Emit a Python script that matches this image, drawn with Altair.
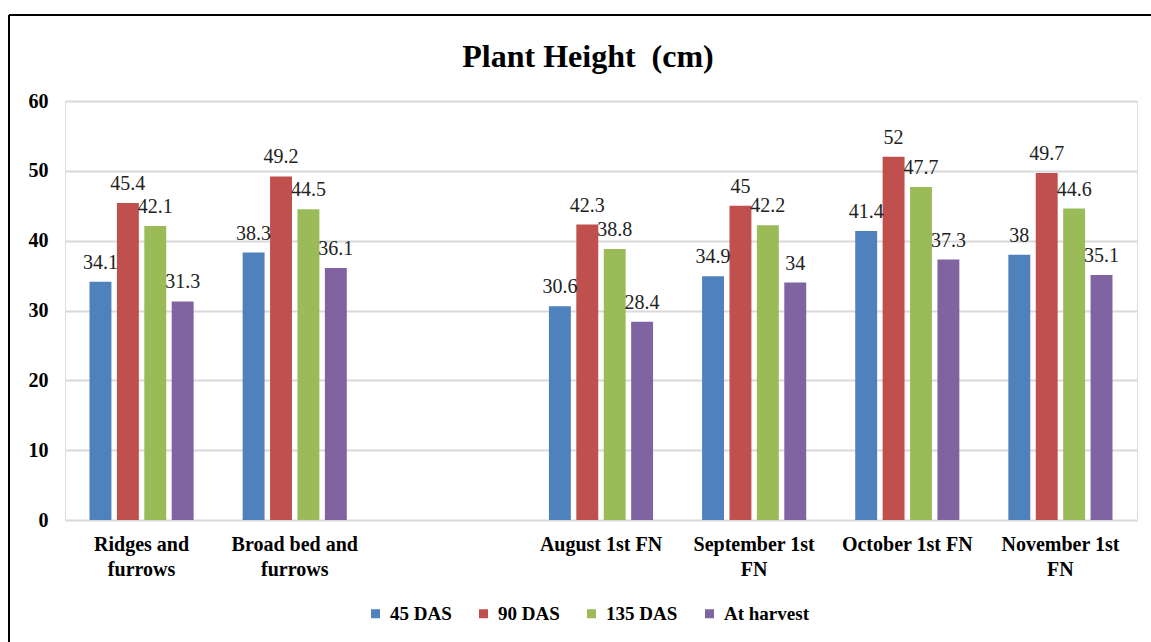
import altair as alt
import pandas as pd

categories = ["Ridges and\nfurrows", "Broad bed and\nfurrows", " ", "August 1st FN",
              "September 1st\nFN", "October 1st FN", "November 1st\nFN"]
series = ["45 DAS", "90 DAS", "135 DAS", "At harvest"]
colors = ["#4f81bd", "#c0504d", "#9bbb59", "#8064a2"]
title_text = "Plant Height \u00a0(cm)"

das45 = [34.1, 38.3, None, 30.6, 34.9, 41.4, 38.0]
das90 = [45.4, 49.2, None, 42.3, 45.0, 52.0, 49.7]
das135 = [42.1, 44.5, None, 38.8, 42.2, 47.7, 44.6]
harvest = [31.3, 36.1, None, 28.4, 34.0, 37.3, 35.1]

rows = []
for s, vals in zip(series, [das45, das90, das135, harvest]):
    for c, v in zip(categories, vals):
        if v is not None:
            rows.append({"cat": c, "series": s, "value": v})
df = pd.DataFrame(rows)

FONT = "'Liberation Serif', 'Times New Roman', 'DejaVu Serif', serif"
W, H = 1072, 419
PL, PT, PR, PB = 65, 101, 14, 122

base = alt.Chart(df).encode(
    x=alt.X("cat:N", sort=categories,
            scale=alt.Scale(domain=categories, paddingInner=0.32, paddingOuter=0.16),
            axis=alt.Axis(title=None, labelAngle=0, labelExpr="split(datum.label, '\\n')",
                          labelFont=FONT, labelFontSize=20, labelFontWeight="bold",
                          labelColor="#000", labelPadding=14, labelLineHeight=25,
                          ticks=False, domain=False, labelBaseline="top")),
    xOffset=alt.XOffset("series:N", sort=series,
                        scale=alt.Scale(domain=series, paddingInner=0.2, paddingOuter=0)),
)

bars = base.mark_bar().encode(
    y=alt.Y("value:Q", scale=alt.Scale(domain=[0, 60], nice=False),
            axis=alt.Axis(title=None, values=[0, 10, 20, 30, 40, 50, 60],
                          labelFont=FONT, labelFontSize=20, labelFontWeight="bold",
                          labelColor="#000", labelPadding=17, ticks=False, domain=False,
                          grid=True, gridColor="#d9d9d9", gridWidth=2)),
    color=alt.Color("series:N", sort=series,
                    scale=alt.Scale(domain=series, range=colors),
                    legend=alt.Legend(title=None, orient="none", direction="horizontal",
                                      legendX=301, legendY=503,
                                      symbolType="square", symbolSize=81,
                                      symbolStrokeWidth=0, labelFont=FONT,
                                      labelFontSize=19, labelFontWeight="bold",
                                      labelColor="#000", columnPadding=22,
                                      labelOffset=5)),
)

labels = base.mark_text(font=FONT, fontSize=20, color="#222", baseline="alphabetic",
                        dy=-13).encode(
    y=alt.Y("value:Q"),
    text=alt.Text("value:Q", format="~g"),
)

frame_df = pd.DataFrame({"a": [0]})
left_line = alt.Chart(frame_df).mark_rule(color="#000", strokeWidth=2).encode(
    x=alt.value(9 - PL), y=alt.value(15 - PT), y2=alt.value(H + PB))
top_line = alt.Chart(frame_df).mark_rule(color="#000", strokeWidth=2).encode(
    y=alt.value(15 - PT), x=alt.value(9 - PL), x2=alt.value(W + PR))

title_df = pd.DataFrame({"t": [title_text]})
title = alt.Chart(title_df).mark_text(font=FONT, fontSize=32, fontWeight="bold",
                                      color="#000", baseline="alphabetic",
                                      align="center").encode(
    text="t:N", x=alt.value(588 - PL), y=alt.value(67 - PT))

chart = alt.layer(bars, labels, left_line, top_line, title).properties(
    width=W, height=H,
    autosize=alt.AutoSizeParams(type="none"),
    padding={"left": PL, "top": PT, "right": PR, "bottom": PB},
).configure_view(stroke=None).configure(background="white")

chart.save("out.html", embed_options={"renderer": "svg", "actions": False})
